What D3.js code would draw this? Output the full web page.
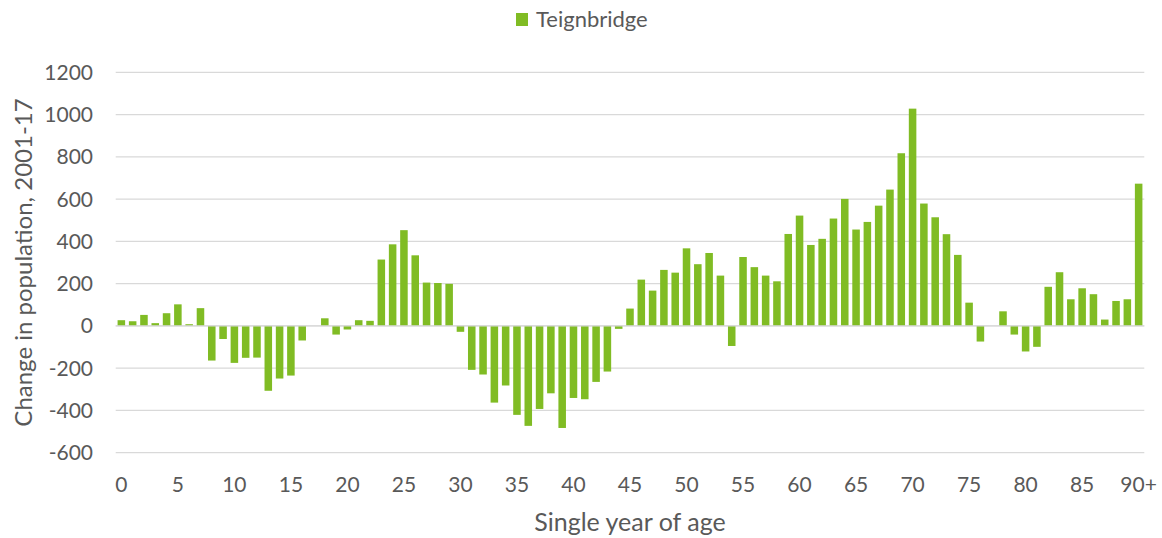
<!DOCTYPE html>
<html>
<head>
<meta charset="utf-8">
<script src="https://cdn.jsdelivr.net/npm/d3@7"></script>
<style>
  body { margin: 0; background: #fff; }
  svg text { font-family: Lato, "Open Sans", sans-serif; fill: #595959; }
</style>
</head>
<body>
<div id="chart"></div>
<script>
// single year of age, 0..89 then 90+
var ages = d3.range(0, 90).map(String).concat(["90+"]);
var change = [
  27, 22, 52, 13, 60, 102, 8, 84, -164, -62,
  -175, -151, -150, -307, -249, -235, -69, 0, 36, -41,
  -17, 27, 24, 314, 386, 453, 334, 205, 203, 199,
  -28, -208, -230, -363, -282, -421, -473, -393, -319, -483,
  -341, -347, -265, -216, -14, 82, 219, 167, 265, 252,
  367, 292, 345, 238, -95, 326, 278, 238, 211, 435,
  522, 383, 412, 508, 601, 456, 492, 569, 645, 817,
  1028, 579, 514, 434, 336, 110, -74, 0, 69, -41,
  -121, -99, 185, 254, 126, 178, 150, 30, 118, 126,
  673
];
var yTicks = [-600, -400, -200, 0, 200, 400, 600, 800, 1000, 1200];
var xTickLabels = ["0", "5", "10", "15", "20", "25", "30", "35", "40", "45",
                   "50", "55", "60", "65", "70", "75", "80", "85", "90+"];
var seriesName = "Teignbridge";
var barColor = "#80bc24";
var gridColor = "#d9d9d9";

var width = 1162, height = 538;
var plotLeft = 115.7, plotRight = 1144.3, plotTop = 72.3, plotBottom = 452.7;

var svg = d3.select("#chart").append("svg")
    .attr("width", width)
    .attr("height", height);

var x = d3.scaleBand()
    .domain(ages)
    .range([plotLeft, plotRight])
    .paddingInner(1 / 3)
    .paddingOuter(1 / 6);

var y = d3.scaleLinear()
    .domain([-600, 1200])
    .range([plotBottom, plotTop]);

// gridlines
svg.append("g")
    .selectAll("line")
    .data(yTicks)
    .join("line")
    .attr("x1", plotLeft)
    .attr("x2", plotRight)
    .attr("y1", d => y(d))
    .attr("y2", d => y(d))
    .attr("stroke", gridColor)
    .attr("stroke-width", 1.3);

// y tick labels
svg.append("g")
    .selectAll("text")
    .data(yTicks)
    .join("text")
    .attr("x", 93)
    .attr("y", d => y(d))
    .attr("dy", "0.36em")
    .attr("text-anchor", "end")
    .style("font-size", "21px")
    .text(d => d);

// bars
svg.append("g")
    .selectAll("rect")
    .data(change)
    .join("rect")
    .attr("x", (d, i) => x(ages[i]))
    .attr("width", x.bandwidth())
    .attr("y", d => y(Math.max(0, d)))
    .attr("height", d => Math.abs(y(d) - y(0)))
    .attr("fill", barColor);

// zero line on top of bars
svg.append("line")
    .attr("x1", plotLeft)
    .attr("x2", plotRight)
    .attr("y1", y(0))
    .attr("y2", y(0))
    .attr("stroke", gridColor)
    .attr("stroke-width", 1.3);

// x tick labels
svg.append("g")
    .selectAll("text")
    .data(xTickLabels)
    .join("text")
    .attr("x", d => x(d) + x.bandwidth() / 2)
    .attr("y", 492)
    .attr("text-anchor", "middle")
    .style("font-size", "21px")
    .text(d => d);

// axis titles
svg.append("text")
    .attr("x", (plotLeft + plotRight) / 2)
    .attr("y", 531)
    .attr("text-anchor", "middle")
    .style("font-size", "25px")
    .text("Single year of age");

svg.append("text")
    .attr("transform", "translate(32," + ((plotTop + plotBottom) / 2) + ") rotate(-90)")
    .attr("text-anchor", "middle")
    .style("font-size", "24px")
    .text("Change in population, 2001-17");

// legend
var legend = svg.append("g");
legend.append("rect")
    .attr("x", 516)
    .attr("y", 13)
    .attr("width", 12)
    .attr("height", 13)
    .attr("fill", barColor);
legend.append("text")
    .attr("x", 536)
    .attr("y", 27)
    .style("font-size", "22px")
    .text(seriesName);
</script>
</body>
</html>
